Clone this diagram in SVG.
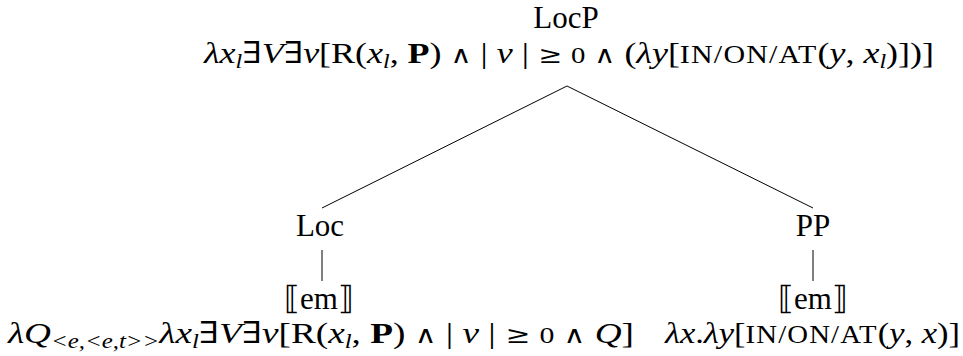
<svg xmlns="http://www.w3.org/2000/svg" width="963" height="356" viewBox="0 0 963 356">
<style>
text { font-family: "Liberation Serif", "DejaVu Serif", serif; font-size: 30px; fill: #000; }
.lab { text-anchor: middle; font-size: 31px; }
.i { font-style: italic; }
.b { font-weight: bold; }
.s { font-size: 20px; font-style: italic; }
.sc { font-size: 25px; letter-spacing: 1px; }
.z { font-size: 24px; }
.op { font-family: "DejaVu Serif", "Liberation Serif", serif; font-size: 24px; }
.sym { font-family: "DejaVu Serif", "Liberation Serif", serif; font-size: 32px; }
line { stroke: #000; stroke-width: 1; }
</style>
<rect width="963" height="356" fill="#fff"/>
<g id="connectors">
<line x1="567" y1="86" x2="322" y2="208"/>
<line x1="567" y1="86" x2="813" y2="208"/>
<line x1="322" y1="250" x2="322" y2="281"/>
<line x1="813" y1="250" x2="813" y2="281"/>
</g>
<g id="LocP">
<text class="lab" x="566" y="28">LocP</text>
<text x="204" y="63" textLength="730" lengthAdjust="spacingAndGlyphs"><tspan class="i">λx</tspan><tspan class="s" dy="5">l</tspan><tspan dy="-5">∃</tspan><tspan class="i">V</tspan>∃<tspan class="i">v</tspan>[R(<tspan class="i">x</tspan><tspan class="s" dy="5">l</tspan><tspan dy="-5">, </tspan><tspan class="b">P</tspan>) <tspan class="op">∧</tspan> | <tspan class="i">v</tspan> | <tspan class="op">≥</tspan> <tspan class="z">0</tspan> <tspan class="op">∧</tspan> (<tspan class="i">λy</tspan>[<tspan class="sc">IN/ON/AT</tspan>(<tspan class="i">y</tspan>, <tspan class="i">x</tspan><tspan class="s" dy="5">l</tspan><tspan dy="-5">)])]</tspan></text>
</g>
<g id="Loc">
<text class="lab" x="320" y="236">Loc</text>
<text class="lab" x="319" y="309"><tspan class="sym">⟦</tspan>em<tspan class="sym">⟧</tspan></text>
<text x="8" y="343" textLength="626" lengthAdjust="spacingAndGlyphs"><tspan class="i">λQ</tspan><tspan class="s" dy="5">&lt;e,&lt;e,t&gt;&gt;</tspan><tspan class="i" dy="-5">λx</tspan><tspan class="s" dy="5">l</tspan><tspan dy="-5">∃</tspan><tspan class="i">V</tspan>∃<tspan class="i">v</tspan>[R(<tspan class="i">x</tspan><tspan class="s" dy="5">l</tspan><tspan dy="-5">, </tspan><tspan class="b">P</tspan>) <tspan class="op">∧</tspan> | <tspan class="i">v</tspan> | <tspan class="op">≥</tspan> <tspan class="z">0</tspan> <tspan class="op">∧</tspan> <tspan class="i">Q</tspan>]</text>
</g>
<g id="PP">
<text class="lab" x="813" y="236">PP</text>
<text class="lab" x="813" y="309"><tspan class="sym">⟦</tspan>em<tspan class="sym">⟧</tspan></text>
<text x="665" y="343" textLength="295" lengthAdjust="spacingAndGlyphs"><tspan class="i">λx</tspan>.<tspan class="i">λy</tspan>[<tspan class="sc">IN/ON/AT</tspan>(<tspan class="i">y</tspan>, <tspan class="i">x</tspan>)]</text>
</g>
</svg>
